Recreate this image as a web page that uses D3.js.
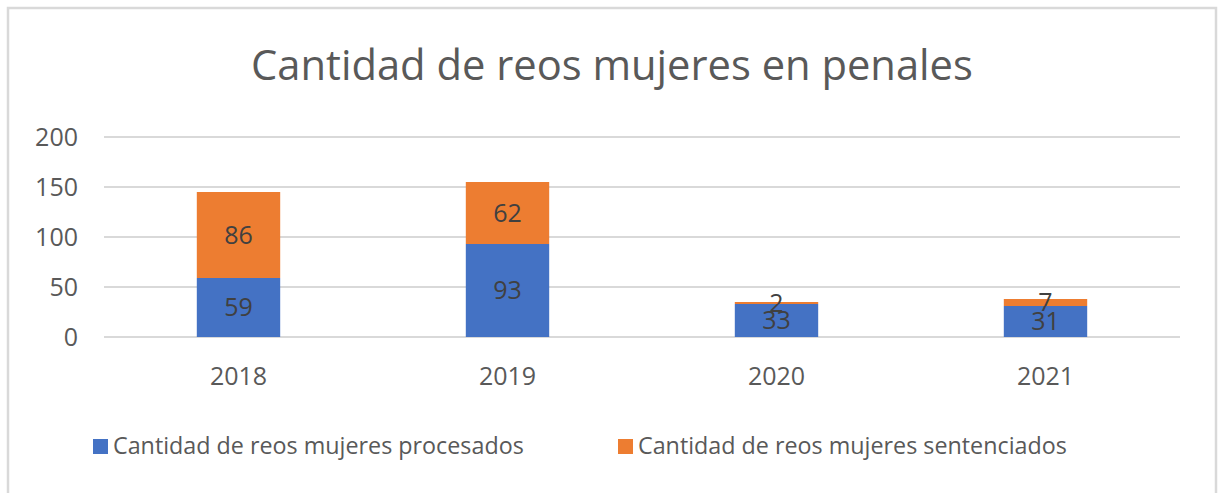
<!DOCTYPE html>
<html>
<head>
<meta charset="utf-8">
<script src="https://cdn.jsdelivr.net/npm/d3@7"></script>
<style>
  html, body { margin: 0; padding: 0; background: #ffffff; }
  svg { display: block; font-family: "Open Sans", sans-serif; }
</style>
</head>
<body>
<svg id="chart" width="1225" height="493"></svg>
<script>
const title = "Cantidad de reos mujeres en penales";
const years = ["2018", "2019", "2020", "2021"];
const procesados = [59, 93, 33, 31];
const sentenciados = [86, 62, 2, 7];
const seriesNames = ["Cantidad de reos mujeres procesados", "Cantidad de reos mujeres sentenciados"];
const seriesColors = ["#4472C4", "#ED7D31"];
const yTicks = [0, 50, 100, 150, 200];

const svg = d3.select("#chart");

// outer chart border
svg.append("rect")
  .attr("x", 8).attr("y", 8)
  .attr("width", 1208).attr("height", 500)
  .attr("fill", "#ffffff")
  .attr("stroke", "#d9d9d9").attr("stroke-width", 2.5);

const margin = { left: 104, right: 1180, top: 137, bottom: 337 };

const x = d3.scaleBand()
  .domain(years)
  .range([margin.left, margin.right])
  .paddingInner(0.69)
  .paddingOuter(0.345);

const y = d3.scaleLinear()
  .domain([0, 200])
  .range([margin.bottom, margin.top]);

// title
svg.append("text")
  .attr("x", 612).attr("y", 80)
  .attr("text-anchor", "middle")
  .attr("font-size", 41.7)
  .attr("fill", "#595959")
  .text(title);

// gridlines
svg.append("g")
  .selectAll("line")
  .data(yTicks)
  .join("line")
  .attr("x1", margin.left).attr("x2", margin.right)
  .attr("y1", d => y(d)).attr("y2", d => y(d))
  .attr("stroke", "#d9d9d9").attr("stroke-width", 2);

// y axis labels
const yAxis = d3.axisLeft(y).tickValues(yTicks).tickSize(0).tickPadding(0);
const yg = svg.append("g")
  .attr("transform", `translate(78,0)`)
  .call(yAxis);
yg.select(".domain").remove();
yg.selectAll("text")
  .attr("font-size", 25)
  .attr("font-family", "Open Sans, sans-serif")
  .attr("fill", "#595959");

// stacked data
const table = years.map((yr, i) => ({ year: yr, procesados: procesados[i], sentenciados: sentenciados[i] }));
const stack = d3.stack().keys(["procesados", "sentenciados"]);
const layers = stack(table);

const gBars = svg.append("g");
layers.forEach((layer, li) => {
  gBars.append("g")
    .selectAll("rect")
    .data(layer)
    .join("rect")
    .attr("x", d => x(d.data.year))
    .attr("width", x.bandwidth())
    .attr("y", d => y(d[1]))
    .attr("height", d => y(d[0]) - y(d[1]))
    .attr("fill", seriesColors[li]);
});

// data labels
layers.forEach((layer, li) => {
  gBars.append("g")
    .selectAll("text")
    .data(layer)
    .join("text")
    .attr("x", d => x(d.data.year) + x.bandwidth() / 2)
    .attr("y", d => y((d[0] + d[1]) / 2))
    .attr("dy", "0.35em")
    .attr("text-anchor", "middle")
    .attr("font-size", 25)
    .attr("fill", "#404040")
    .text(d => d[1] - d[0]);
});

// x axis labels
const xAxis = d3.axisBottom(x).tickSize(0).tickPadding(0);
const xg = svg.append("g")
  .attr("transform", `translate(0,${margin.bottom + 30})`)
  .call(xAxis);
xg.select(".domain").remove();
xg.selectAll("text")
  .attr("font-size", 25)
  .attr("font-family", "Open Sans, sans-serif")
  .attr("fill", "#595959");

// legend
const legendX = [93, 618];
const lg = svg.append("g");
seriesNames.forEach((name, i) => {
  lg.append("rect")
    .attr("x", legendX[i]).attr("y", 439)
    .attr("width", 15).attr("height", 15)
    .attr("fill", seriesColors[i]);
  lg.append("text")
    .attr("x", legendX[i] + 20).attr("y", 454)
    .attr("font-size", 23.3)
    .attr("fill", "#595959")
    .text(name);
});
</script>
</body>
</html>
